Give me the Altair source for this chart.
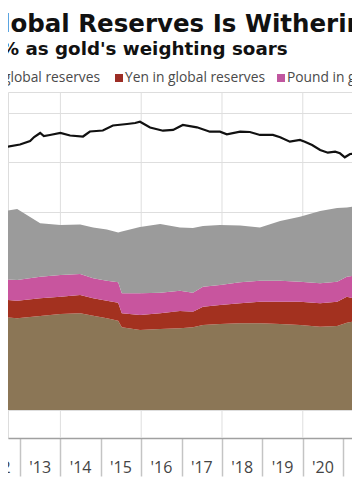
import altair as alt
import pandas as pd

# ---------------- data ----------------
title_text = "lobal Reserves Is Withering"
subtitle_text = "0% as gold's weighting soars"
legend_first = "n global reserves"
legend_yen = "Yen in global reserves"
legend_pound = "Pound in global reserves"

tick_years = [2013, 2014, 2015, 2016, 2017, 2018, 2019, 2020, 2021]
grid_years = [2014, 2016, 2018, 2020]
label_years = [2012, 2013, 2014, 2015, 2016, 2017, 2018, 2019, 2020, 2021]
label_texts = ["'12", "'13", "'14", "'15", "'16", "'17", "'18", "'19", "'20", "'21"]

# black line
line_years = [2012.31, 2012.50, 2012.70, 2013.00, 2013.25, 2013.35, 2013.50, 2013.59,
              2013.74, 2014.00, 2014.24, 2014.56, 2014.73, 2015.05, 2015.30, 2015.65,
              2015.85, 2015.97, 2016.22, 2016.54, 2016.79, 2017.03, 2017.38, 2017.70,
              2017.95, 2018.12, 2018.45, 2018.69, 2018.94, 2019.26, 2019.44, 2019.68,
              2019.93, 2020.05, 2020.23, 2020.43, 2020.62, 2020.80, 2020.92, 2021.04,
              2021.17, 2021.34, 2021.42, 2021.54]
line_values = [54.55, 54.20, 53.19, 53.64, 54.34, 55.15, 55.96, 55.35,
               55.56, 55.96, 55.45, 55.25, 56.26, 56.46, 57.47, 57.78,
               57.98, 58.24, 57.07, 56.42, 56.57, 57.58, 57.11, 56.22,
               56.22, 55.70, 56.22, 56.16, 55.56, 55.56, 55.09, 54.20,
               54.55, 54.20, 53.54, 52.53, 51.98, 52.18, 51.86, 51.05,
               51.72, 51.86, 51.52, 51.31]

# stacked areas (bottom to top: brown, yen, pound, grey)
area_years = [2012.31, 2012.50, 2012.93, 2013.50, 2014.00, 2014.49, 2014.81, 2015.15,
              2015.43, 2015.52, 2015.97, 2016.47, 2016.96, 2017.28, 2017.53, 2017.95,
              2018.45, 2018.94, 2019.44, 2019.93, 2020.43, 2020.85, 2021.09, 2021.24,
              2021.42, 2021.54]
brown_values = [18.79, 18.85, 18.53, 18.99, 19.39, 19.54, 19.05, 18.53,
                18.04, 16.71, 16.16, 16.36, 16.51, 16.71, 17.17, 17.37,
                17.52, 17.52, 17.37, 17.17, 16.83, 16.97, 17.64, 17.84,
                17.37, 17.37]
yen_values = [3.54, 3.52, 3.56, 3.58, 3.49, 3.70, 3.52, 3.56,
              3.64, 2.83, 3.03, 3.17, 3.49, 3.15, 3.70, 3.84,
              4.04, 4.36, 4.51, 4.71, 4.73, 4.91, 5.25, 4.73,
              4.85, 4.85]
pound_values = [4.04, 4.04, 4.18, 4.36, 4.38, 4.24, 4.04, 4.04,
                4.12, 4.04, 4.38, 4.16, 4.10, 3.84, 4.04, 4.04,
                4.24, 4.24, 4.24, 4.04, 4.04, 4.04, 4.04, 4.51,
                4.18, 4.18]
grey_values = [13.64, 13.66, 14.34, 10.79, 10.10, 10.00, 10.26, 10.34,
               10.06, 12.48, 13.39, 13.88, 12.77, 13.07, 12.26, 12.12,
               11.47, 10.75, 12.06, 13.13, 14.61, 14.89, 13.98, 14.00,
               14.00, 14.00]

series_names = ["Brown", "Yen", "Pound", "Grey"]
series_colors = ["#8b7656", "#a3311f", "#c8559e", "#9b9b9b"]

# ---------------- tables ----------------
rows = []
for name, rank, vals in zip(series_names, [1, 2, 3, 4],
                            [brown_values, yen_values, pound_values, grey_values]):
    for yr, v in zip(area_years, vals):
        rows.append({"year": yr, "value": v, "series": name, "rank": rank})
area_df = pd.DataFrame(rows)
line_df = pd.DataFrame({"year": line_years, "value": line_values})
grid_df = pd.DataFrame({"year": grid_years})
label_df = pd.DataFrame({"mid": [y + 0.5 for y in label_years], "label": label_texts})

x_scale = alt.Scale(domain=[2012.703, 2021.218], nice=False, zero=False)
y_scale = alt.Scale(domain=[-5.657, 64.24], nice=False, zero=False)

x_axis = alt.Axis(values=tick_years, labels=False, ticks=True, tickSize=38,
                  tickColor="#c4c4c4", tickWidth=1.5, domainColor="#a0a0a0",
                  domainWidth=1.5, grid=False, title=None)
y_axis = alt.Axis(values=[0, 10, 20, 30, 40, 50, 60], labels=False, ticks=False,
                  domain=False, grid=True, gridColor="#dedede", gridWidth=1, title=None)

grid = alt.Chart(grid_df).mark_rule(color="#dedede", strokeWidth=1).encode(
    x=alt.X("year:Q", scale=x_scale, axis=x_axis)
)

areas = alt.Chart(area_df).mark_area(clip=True, interpolate="linear").encode(
    x=alt.X("year:Q", scale=x_scale, axis=x_axis),
    y=alt.Y("value:Q", stack="zero", scale=y_scale, axis=y_axis),
    color=alt.Color("series:N", scale=alt.Scale(domain=series_names, range=series_colors),
                    legend=None),
    order=alt.Order("rank:Q", sort="ascending"),
)

line = alt.Chart(line_df).mark_line(clip=True, color="#111111", strokeWidth=2.2).encode(
    x=alt.X("year:Q", scale=x_scale),
    y=alt.Y("value:Q", scale=y_scale),
)

labels = alt.Chart(label_df).mark_text(
    font="Open Sans", fontSize=16, color="#444444", align="center", baseline="alphabetic"
).encode(
    x=alt.X("mid:Q", scale=x_scale),
    y=alt.value(381),
    text="label:N",
)


def text_layer(txt, x, y, size, weight, color, font, align="left"):
    return alt.Chart(pd.DataFrame({"t": [txt]})).mark_text(
        font=font, fontSize=size, fontWeight=weight, color=color,
        align=align, baseline="alphabetic"
    ).encode(x=alt.value(x), y=alt.value(y), text="t:N")


title = text_layer(title_text, -6, -60, 24.5, "bold", "#111111", "DejaVu Sans")
subtitle = text_layer(subtitle_text, -20, -37, 18.3, "bold", "#111111", "DejaVu Sans")
leg1 = text_layer(legend_first, 92, -10, 13.8, "normal", "#4a4a4a", "Open Sans", align="right")
leg2 = text_layer(legend_yen, 117, -10, 13.8, "normal", "#4a4a4a", "Open Sans")
leg3 = text_layer(legend_pound, 279, -10, 13.8, "normal", "#4a4a4a", "Open Sans")

sq_red = alt.Chart(pd.DataFrame({"s": ["Yen"]})).mark_square(
    size=64, color="#9c2d25", opacity=1).encode(x=alt.value(111), y=alt.value(-14))
sq_pink = alt.Chart(pd.DataFrame({"s": ["Pound"]})).mark_square(
    size=64, color="#c0569f", opacity=1).encode(x=alt.value(273), y=alt.value(-14))

chart = alt.layer(
    grid, areas, line, labels, title, subtitle, leg1, leg2, leg3, sq_red, sq_pink
).properties(
    width=344, height=346,
    autosize=alt.AutoSizeParams(type="none"),
    padding={"left": 0, "top": 84, "right": 0, "bottom": 50},
).configure_view(stroke=None).configure(background="white")

chart.save("out.html", embed_options={"renderer": "svg", "actions": False})
